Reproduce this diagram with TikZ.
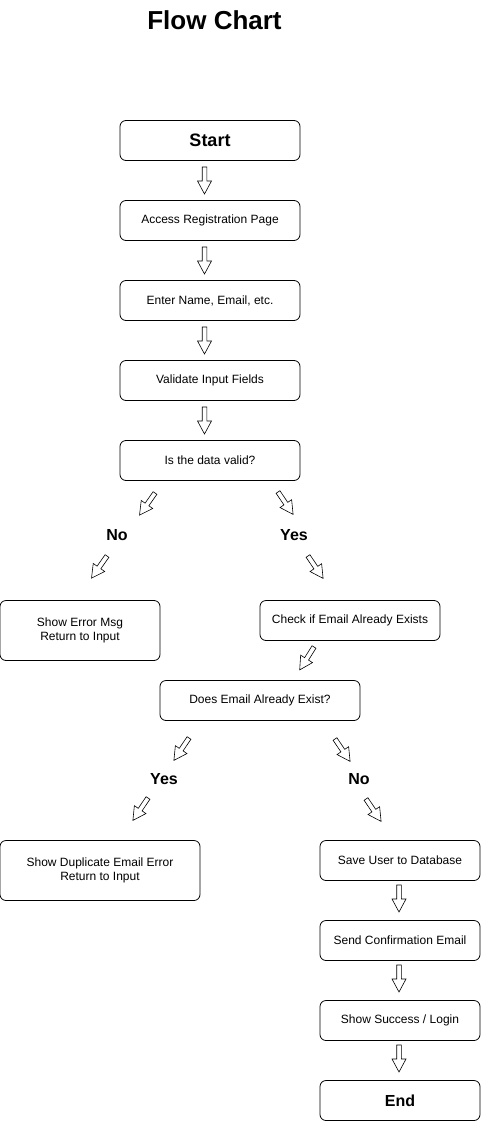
\documentclass[tikz,border=0pt]{standalone}
\usepackage{fontspec}
\setmainfont{Liberation Sans}
\begin{document}
\begin{tikzpicture}[x=1pt,y=1pt,
  box/.style={draw, line width=0.8pt, rounded corners=6pt, minimum height=40pt, inner sep=0pt, align=center, font=\fontsize{12}{14}\selectfont},
  boldbox/.style={box, font=\fontsize{18}{20}\selectfont\bfseries},
  lbl/.style={font=\fontsize{16}{18}\selectfont\bfseries, inner sep=0pt},
  barrow/.pic={\draw[line width=0.6pt, fill=white, line join=miter] (0,-2.3) -- (14,-2.3) -- (14,-7) -- (27,0) -- (14,7) -- (14,2.3) -- (0,2.3) -- cycle;}
]
\useasboundingbox (0,0) rectangle (481,-1121);
\node[font=\fontsize{26}{28}\selectfont\bfseries] (title) at (214.5,-20) {Flow Chart};

\node[boldbox, minimum width=180pt] (start) at (210,-140.5) {Start};
\node[box, minimum width=180pt] (access) at (210,-220.5) {Access Registration Page};
\node[box, minimum width=180pt] (enter) at (210,-300.5) {Enter Name, Email, etc.};
\node[box, minimum width=180pt] (valid) at (210,-380.5) {Validate Input Fields};
\node[box, minimum width=180pt] (dec1) at (210,-460.5) {Is the data valid?};
\node[box, minimum width=160pt, minimum height=60pt] (err) at (80,-630.5) {Show Error Msg\\Return to Input};
\node[box, minimum width=180pt] (check) at (350,-620.5) {Check if Email Already Exists};
\node[box, minimum width=200pt] (dec2) at (260,-700.5) {Does Email Already Exist?};
\node[box, minimum width=200pt, minimum height=60pt] (dup) at (100,-870.5) {Show Duplicate Email Error\\Return to Input};
\node[box, minimum width=160pt] (save) at (400,-860.5) {Save User to Database};
\node[box, minimum width=160pt] (send) at (400,-940.5) {Send Confirmation Email};
\node[box, minimum width=160pt] (succ) at (400,-1020.5) {Show Success / Login};
\node[boldbox, minimum width=160pt, font=\fontsize{16}{18}\selectfont\bfseries] (end) at (400,-1100.5) {End};

\node[lbl] (no1) at (117,-535.5) {No};
\node[lbl] (yes1) at (294,-535.5) {Yes};
\node[lbl] (yes2) at (164,-779.5) {Yes};
\node[lbl] (no2) at (359,-779.5) {No};

% vertical block arrows
\pic[rotate=-90] at (204.5,-167) {barrow};
\pic[rotate=-90] at (204.5,-247) {barrow};
\pic[rotate=-90] at (204.5,-327) {barrow};
\pic[rotate=-90] at (204.5,-407) {barrow};
\pic[rotate=-90] at (399,-885) {barrow};
\pic[rotate=-90] at (399,-965) {barrow};
\pic[rotate=-90] at (399,-1045) {barrow};

% diagonal block arrows
\pic[rotate=-125] at (155,-493) {barrow};
\pic[rotate=-125] at (107,-556) {barrow};
\pic[rotate=-56] at (278,-492) {barrow};
\pic[rotate=-56] at (308,-556) {barrow};
\pic[rotate=-122] at (314,-647) {barrow};
\pic[rotate=-124] at (189,-738) {barrow};
\pic[rotate=-124] at (148,-798) {barrow};
\pic[rotate=-56] at (335,-739) {barrow};
\pic[rotate=-56] at (366,-799) {barrow};
\end{tikzpicture}
\end{document}
